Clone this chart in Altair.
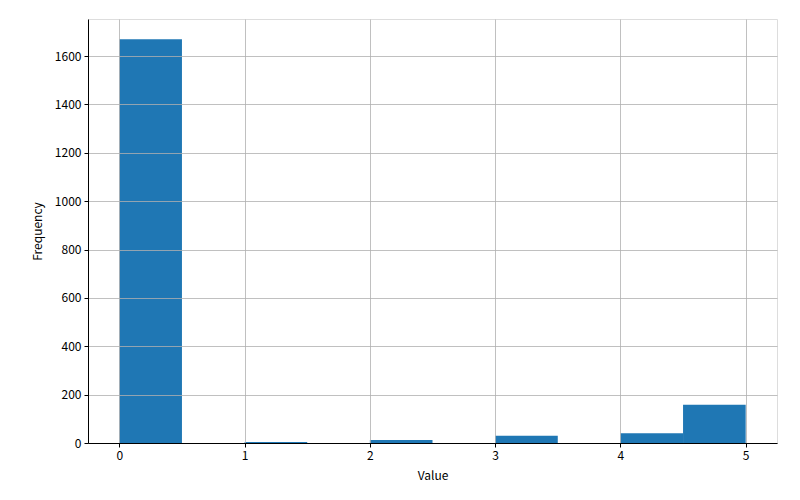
import altair as alt
import pandas as pd

bin_start = [0.0, 0.5, 1.0, 1.5, 2.0, 2.5, 3.0, 3.5, 4.0, 4.5]
bin_end = [0.5, 1.0, 1.5, 2.0, 2.5, 3.0, 3.5, 4.0, 4.5, 5.0]
counts = [1670, 0, 4, 0, 12, 0, 30, 0, 40, 158]

df = pd.DataFrame({"start": bin_start, "end": bin_end, "count": counts})

FONT = "Noto Sans CJK SC"

axis_common = dict(
    grid=True, gridColor="#b0b0b0", gridWidth=0.8, gridOpacity=1,
    domainColor="black", domainWidth=1,
    tickColor="black", tickSize=4, tickWidth=1,
    labelColor="black", labelFont=FONT, labelFontSize=12, labelPadding=3,
    titleColor="black", titleFont=FONT, titleFontSize=12, titleFontWeight="normal",
    zindex=1,
)

chart = alt.Chart(df).mark_rect(color="#1f77b4").encode(
    x=alt.X("start:Q", title="Value",
            scale=alt.Scale(domain=[-0.25, 5.25], nice=False, zero=False),
            axis=alt.Axis(values=[0, 1, 2, 3, 4, 5], format="d", titlePadding=9, **axis_common)),
    x2="end:Q",
    y=alt.Y("count:Q", title="Frequency",
            scale=alt.Scale(domain=[0, 1753.5], nice=False),
            axis=alt.Axis(values=list(range(0, 1601, 200)), format="d", titlePadding=10, **axis_common)),
    y2=alt.datum(0),
).properties(
    width=689, height=424,
    autosize=alt.AutoSizeParams(type="none"),
    padding={"left": 80, "top": 11, "right": 15, "bottom": 50},
).configure_view(stroke="black", strokeWidth=1).configure(background="white")

chart.save("out.html", embed_options={"renderer": "svg", "actions": False})
